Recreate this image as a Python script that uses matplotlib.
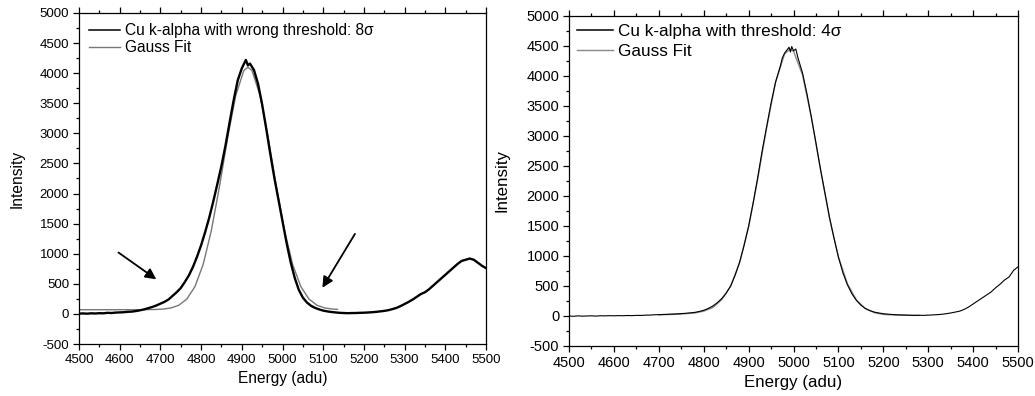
import numpy as np
import matplotlib
matplotlib.use("Agg")
import matplotlib.pyplot as plt
from matplotlib.ticker import MultipleLocator

plt.rcParams['font.family'] = ['Liberation Sans', 'DejaVu Sans']
plt.rcParams['axes.unicode_minus'] = False

# ---------------- Left panel: wrong threshold (8 sigma) ----------------
left_energy = [4500, 4510, 4520, 4530, 4540, 4550, 4560, 4570, 4580, 4590,
               4600, 4610, 4620, 4630, 4640, 4650, 4660, 4670, 4680, 4690,
               4700, 4710, 4720, 4730, 4740, 4750, 4760, 4770, 4780, 4790,
               4800, 4810, 4820, 4830, 4840, 4850, 4860, 4870, 4880, 4890,
               4900, 4905, 4910, 4915, 4920, 4930, 4940, 4950, 4960, 4970,
               4980, 4990, 5000, 5010, 5020, 5030, 5040, 5050, 5060, 5070,
               5080, 5090, 5100, 5110, 5120, 5130, 5140, 5150, 5160, 5170,
               5180, 5190, 5200, 5210, 5220, 5230, 5240, 5250, 5260, 5270,
               5280, 5290, 5300, 5310, 5320, 5330, 5340, 5350, 5360, 5370,
               5380, 5390, 5400, 5410, 5420, 5430, 5440, 5450, 5460, 5470,
               5480, 5490, 5500]
left_counts = [5, 8, 4, 10, 7, 12, 10, 18, 15, 22,
               25, 28, 35, 38, 48, 60, 75, 95, 115, 140,
               170, 200, 240, 300, 360, 430, 530, 640, 780, 950,
               1140, 1360, 1600, 1870, 2160, 2460, 2800, 3180, 3550, 3880,
               4080, 4150, 4220, 4130, 4160, 4050, 3820, 3480, 3080, 2660,
               2260, 1900, 1540, 1180, 860, 600, 400, 270, 190, 135,
               100, 75, 55, 42, 32, 25, 18, 15, 12, 14,
               15, 18, 20, 24, 28, 34, 42, 50, 62, 80,
               100, 130, 165, 200, 240, 285, 330, 360, 410, 470,
               530, 590, 650, 710, 770, 830, 880, 900, 920, 900,
               850, 800, 760]

left_fit_energy = [4500, 4600, 4645, 4665, 4685, 4705, 4725, 4745, 4765, 4785,
                   4805, 4825, 4845, 4865, 4885, 4905, 4915, 4925, 4945, 4965,
                   4985, 5005, 5025, 5045, 5065, 5085, 5105, 5125, 5135]
left_fit_counts = [70, 70, 70, 71, 73, 79, 97, 143, 247, 455,
                   820, 1379, 2110, 2918, 3626, 4044, 4100, 4044, 3626, 2918,
                   2110, 1379, 820, 455, 247, 143, 97, 79, 76]

# ---------------- Right panel: correct threshold (4 sigma) ----------------
right_energy = [4500, 4510, 4520, 4530, 4540, 4550, 4560, 4570, 4580, 4590,
                4600, 4610, 4620, 4630, 4640, 4650, 4660, 4670, 4680, 4690,
                4700, 4710, 4720, 4730, 4740, 4750, 4760, 4770, 4780, 4790,
                4800, 4810, 4820, 4830, 4840, 4850, 4860, 4870, 4880, 4890,
                4900, 4910, 4920, 4930, 4940, 4950, 4960, 4970, 4975, 4980,
                4985, 4990, 4993, 4996, 5000, 5005, 5010, 5020, 5030, 5040,
                5050, 5060, 5070, 5080, 5090, 5100, 5110, 5120, 5130, 5140,
                5150, 5160, 5170, 5180, 5190, 5200, 5210, 5220, 5230, 5240,
                5250, 5260, 5270, 5280, 5290, 5300, 5310, 5320, 5330, 5340,
                5350, 5360, 5370, 5380, 5390, 5400, 5410, 5420, 5430, 5440,
                5450, 5460, 5470, 5480, 5490, 5500]
right_counts = [0, -5, 2, -3, 0, 3, -2, 4, 2, 5,
                3, 6, 4, 8, 6, 10, 9, 14, 15, 20,
                22, 25, 28, 32, 35, 40, 45, 52, 60, 75,
                95, 125, 165, 220, 290, 380, 500, 680, 900, 1180,
                1500, 1880, 2300, 2750, 3150, 3550, 3900, 4150, 4300, 4380,
                4430, 4480, 4400, 4490, 4420, 4450, 4300, 4050, 3700, 3300,
                2880, 2450, 2050, 1650, 1300, 980, 720, 520, 370, 260,
                180, 125, 90, 65, 50, 38, 30, 25, 20, 18,
                15, 12, 10, 12, 10, 14, 18, 22, 28, 38,
                50, 65, 80, 110, 150, 200, 250, 300, 350, 400,
                470, 530, 600, 650, 760, 820]

right_fit_energy = [4700, 4740, 4780, 4800, 4820, 4840, 4860, 4880, 4900, 4920,
                    4940, 4960, 4980, 4992, 5000, 5020, 5040, 5060, 5080, 5100,
                    5120, 5140, 5160, 5180, 5200, 5240, 5280]
right_fit_counts = [20, 28, 50, 80, 140, 270, 500, 890, 1487, 2272,
                    3134, 3896, 4367, 4450, 4413, 4019, 3300, 2443, 1632, 984,
                    537, 267, 123, 55, 26, 12, 10]

x_ticks = [4500, 4600, 4700, 4800, 4900, 5000, 5100, 5200, 5300, 5400, 5500]
y_ticks = [-500, 0, 500, 1000, 1500, 2000, 2500, 3000, 3500, 4000, 4500, 5000]

left_label = 'Cu k-alpha with wrong threshold: 8σ'
right_label = 'Cu k-alpha with threshold: 4σ'
fit_label = 'Gauss Fit'

# arrow annotations (tail -> tip), in data coordinates
arrow1 = ((4597, 1020), (4690, 575))
arrow2 = ((5178, 1330), (5098, 435))

fig = plt.figure(figsize=(10.35, 3.96), dpi=100)
axL = fig.add_axes([0.0763, 0.1313, 0.3933, 0.8359])
axR = fig.add_axes([0.5498, 0.1263, 0.4338, 0.8333])


def style(ax, tsize, lsize, ylpad, xlpad):
    ax.set_xlim(4500, 5500)
    ax.set_ylim(-500, 5000)
    ax.set_xticks(x_ticks)
    ax.set_yticks(y_ticks)
    ax.xaxis.set_minor_locator(MultipleLocator(50))
    ax.yaxis.set_minor_locator(MultipleLocator(250))
    ax.tick_params(which='both', direction='out', top=True, right=False,
                   labeltop=False, labelsize=tsize, width=0.9, colors='black')
    ax.tick_params(which='major', length=4.5, pad=2.5)
    ax.tick_params(which='minor', length=2.5)
    for s in ax.spines.values():
        s.set_linewidth(0.9)
    ax.set_xlabel('Energy (adu)', fontsize=lsize, labelpad=xlpad)
    ax.set_ylabel('Intensity', fontsize=lsize, labelpad=ylpad)


axL.plot(left_fit_energy, left_fit_counts, color='#777777', lw=1.0, label=fit_label, zorder=2)
axL.plot(left_energy, left_counts, color='black', lw=1.7, label=left_label, zorder=3)
style(axL, 9.5, 11.2, 11, 3.5)
h, l = axL.get_legend_handles_labels()
legL = axL.legend([h[1], h[0]], [l[1], l[0]], loc='upper left', frameon=False, fontsize=11.2,
                  handlelength=2.0, handletextpad=0.3, labelspacing=0.15,
                  borderaxespad=0.4, borderpad=0.25)
legL.get_lines()[0].set_linewidth(1.1)
for (tail, tip) in (arrow1, arrow2):
    axL.annotate('', xy=tip, xytext=tail,
                 arrowprops=dict(arrowstyle='-|>', color='black', lw=1.3,
                                 mutation_scale=16, shrinkA=0, shrinkB=0))

axR.plot(right_fit_energy, right_fit_counts, color='#888888', lw=1.0, label=fit_label, zorder=2)
axR.plot(right_energy, right_counts, color='black', lw=0.8, label=right_label, zorder=3)
style(axR, 10.5, 12.2, 12, 3.5)
h, l = axR.get_legend_handles_labels()
legR = axR.legend([h[1], h[0]], [l[1], l[0]], loc='upper left', frameon=False, fontsize=12.3,
                  handlelength=2.1, handletextpad=0.3, labelspacing=0.3,
                  borderaxespad=0.25, borderpad=0.2)
legR.get_lines()[0].set_linewidth(1.1)

fig.savefig('out.png', dpi=100)
